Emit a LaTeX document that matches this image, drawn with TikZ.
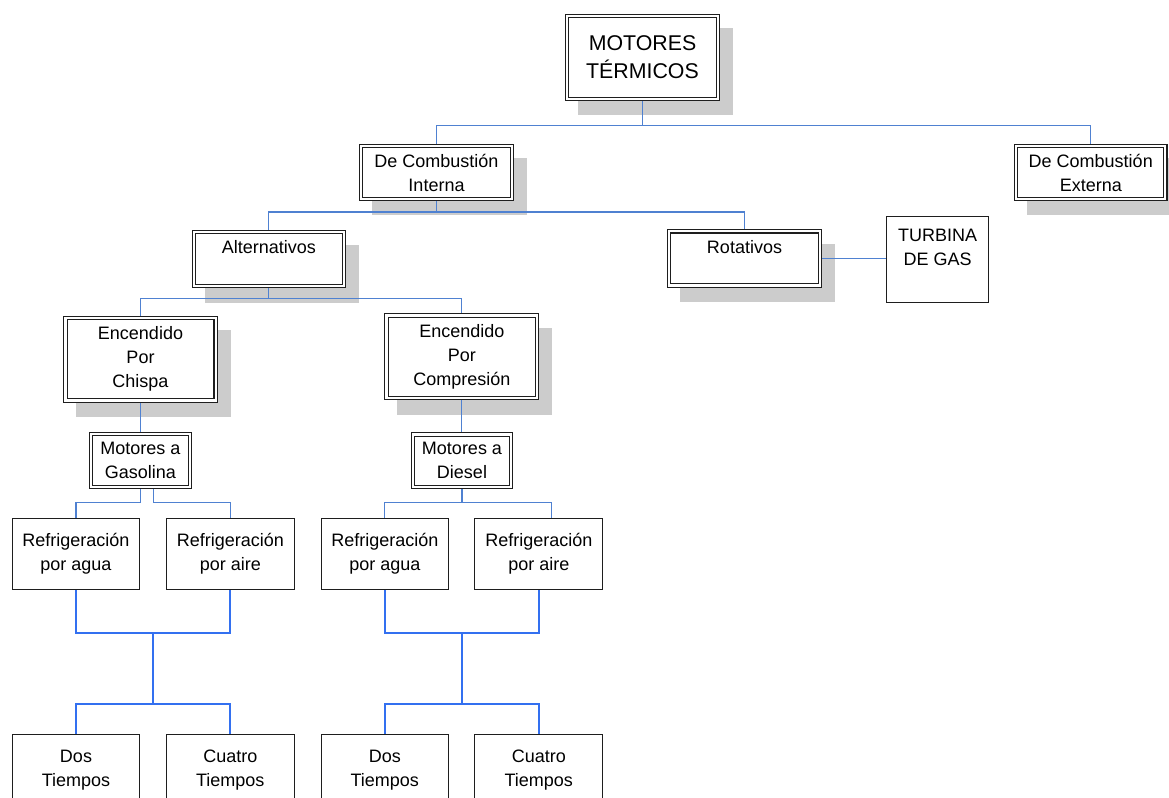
\documentclass[tikz,border=0pt]{standalone}
\usepackage{fontspec}
\setmainfont{Liberation Sans}
\usetikzlibrary{calc,backgrounds}
\definecolor{lineup}{RGB}{79,129,209}
\definecolor{linelow}{RGB}{51,112,240}
\definecolor{shadowc}{RGB}{204,204,204}
\definecolor{boxc}{RGB}{30,30,30}
\begin{document}
\begin{tikzpicture}[x=0.75pt,y=-0.75pt,
  txt/.style={font=\fontsize{13.5}{18}\selectfont, align=center, text=black},
  dbox/.style 2 args={txt, draw=boxc, line width=0.8pt, double=white, double distance=1.6pt,
    outer sep=1.6pt, inner sep=0pt, minimum width={#1*0.75pt-3.2pt}, minimum height={#2*0.75pt-3.2pt}, fill=white},
  sbox/.style 2 args={txt, draw=boxc, line width=0.75pt, outer sep=0.375pt, inner sep=0pt,
    minimum width={#1*0.75pt-0.75pt}, minimum height={#2*0.75pt-0.75pt}, fill=white},
  up/.style={draw=lineup, line width=0.8pt},
  low/.style={draw=linelow, line width=1.3pt},
  shd/.style={fill=shadowc}
]
\useasboundingbox (0,0) rectangle (1169,798);
\clip (0,0) rectangle (1169,798);

% boxes
\node[dbox={155}{87}, font=\fontsize{16}{21}\selectfont] (mt) at (642.5,57.5) {MOTORES\\TÉRMICOS};
\node[dbox={155}{57}] (ci) at (436.5,172.5) {De Combustión\\Interna};
\node[dbox={153.5}{57}] (ce) at (1090.75,172.5) {De Combustión\\Externa};
\node[dbox={154.3}{58.3}] (alt) at (268.9,259.2) {Alternativos\\~};
\node[dbox={155.6}{58.4}] (rot) at (744.5,258.5) {Rotativos\\~};
\node[sbox={103.3}{87}] (tg) at (937.7,259.2) {TURBINA\\DE GAS\\~};
\node[dbox={154.4}{86.7}] (ech) at (140.5,359.3) {Encendido\\Por\\Chispa};
\node[dbox={155}{86.7}] (eco) at (461.8,356.7) {Encendido\\Por\\Compresión};
\node[dbox={103.3}{57.6}] (mg) at (140.3,460.5) {Motores a\\Gasolina};
\node[dbox={102.6}{57}] (md) at (462,460.8) {Motores a\\Diesel};
\node[sbox={128.6}{72.3}] (ra1) at (76,553.8) {Refrigeración\\por agua};
\node[sbox={128.7}{72.3}] (rr1) at (230.3,553.8) {Refrigeración\\por aire};
\node[sbox={128.3}{72.3}] (ra2) at (384.8,553.8) {Refrigeración\\por agua};
\node[sbox={129}{72.3}] (rr2) at (538.8,553.8) {Refrigeración\\por aire};
\node[sbox={128.6}{72}] (dt1) at (76,770) {Dos\\Tiempos};
\node[sbox={128.7}{72}] (ct1) at (230.3,770) {Cuatro\\Tiempos};
\node[sbox={128.3}{72}] (dt2) at (384.8,770) {Dos\\Tiempos};
\node[sbox={129}{72}] (ct2) at (538.8,770) {Cuatro\\Tiempos};

% shadows
\begin{scope}[on background layer]
\clip (0,0) rectangle (1169,798);
\foreach \n in {mt,ci,ce,alt,rot,ech,eco}
  \fill[shd] ($(\n.north west)+(13,14.5)$) rectangle ($(\n.south east)+(13,14.5)$);
\end{scope}

% upper connectors
\draw[up] (mt.south) -- (mt.south |- 0,125.3) -| (ci.north);
\draw[up] (mt.south |- 0,125.3) -| (ce.north);
\draw[up] (ci.south) -- (ci.south |- 0,212) -| (alt.north);
\draw[up] (ci.south |- 0,212) -| (rot.north);
\draw[up] (alt.south) -- (alt.south |- 0,298.3) -| (ech.north);
\draw[up] (alt.south |- 0,298.3) -| (eco.north);
\draw[up] (rot.east) -- (rot.east -| tg.west);
\draw[up] (ech.south) -- (ech.south |- mg.north);
\draw[up] (eco.south) -- (eco.south |- md.north);
\draw[up] (mg.south) -- (mg.south |- 0,502.7) -| (ra1.north);
\draw[up] ($(mg.south)+(13,0)$) -- ($(mg.south)+(13,13.4)$) -| (rr1.north);
\draw[up] (md.south) -- (md.south |- 0,502.7) -| (ra2.north);
\draw[up] (md.south |- 0,502.7) -| ($(rr2.north)+(13,0)$);

% lower connectors
\draw[low] (ra1.south) -- (ra1.south |- 0,632.7) -| (rr1.south);
\coordinate (j1) at ($(ra1.south |- 0,632.7)!0.5!(rr1.south |- 0,632.7)$);
\draw[low] (j1) -- (j1 |- 0,704.3) -| (dt1.north);
\draw[low] (j1 |- 0,704.3) -| (ct1.north);
\draw[low] (ra2.south) -- (ra2.south |- 0,632.7) -| (rr2.south);
\coordinate (j2) at ($(ra2.south |- 0,632.7)!0.5!(rr2.south |- 0,632.7)$);
\draw[low] (j2) -- (j2 |- 0,704.3) -| (dt2.north);
\draw[low] (j2 |- 0,704.3) -| (ct2.north);
\end{tikzpicture}
\end{document}
